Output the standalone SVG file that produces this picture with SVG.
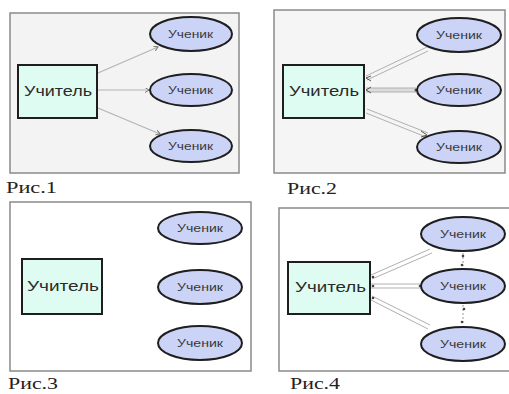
<svg xmlns="http://www.w3.org/2000/svg" width="509" height="394" viewBox="0 0 509 394">
<style>
.frame{stroke:#8a8a8a;stroke-width:1.5}
.t rect{fill:#dffcf2;stroke:#1e1e1e;stroke-width:2}
.s ellipse{fill:#cbd3f6;stroke:#1e1e1e;stroke-width:2}
.tt{font-family:"Liberation Sans",Arial,sans-serif;font-size:14px;fill:#2a2a2a}
.st{font-family:"Liberation Sans",Arial,sans-serif;font-size:10px;fill:#3a3a3a}
.cap{font-family:"Liberation Serif","Times New Roman",serif;font-size:16px;fill:#222}
.ln{stroke:#b4b4b4;stroke-width:1.2;fill:none}
.dl{stroke:#b0b0b0;stroke-width:1;fill:none}
</style>
<defs>
<marker id="ah" markerWidth="6" markerHeight="6" refX="4" refY="2.5" orient="auto" markerUnits="userSpaceOnUse">
<path d="M0,0 L4,2.5 L0,5" fill="none" stroke="#777" stroke-width="1"/>
</marker>
</defs>
<rect width="509" height="394" fill="#ffffff"/>

<!-- Panel frames -->
<rect class="frame" x="10" y="13" width="229" height="160" fill="#f3f3f3"/>
<rect class="frame" x="274" y="10" width="231" height="163" fill="#f5f5f5" stroke="#555"/>
<rect class="frame" x="10" y="202" width="241" height="169" fill="#ffffff"/>
<rect class="frame" x="279" y="208" width="232" height="163" fill="#ffffff"/>

<!-- Connectors -->
<g id="connectors">
<!-- Panel 1 -->
<line class="ln" x1="98" y1="73" x2="158" y2="47" marker-end="url(#ah)"/>
<line class="ln" x1="98" y1="90" x2="149" y2="90" marker-end="url(#ah)"/>
<line class="ln" x1="98" y1="108" x2="160" y2="134" marker-end="url(#ah)"/>
<!-- Panel 2 -->
<path class="dl" d="M366,76 L427,47 M367,80 L428,51"/>
<path d="M371,76 L366,78 L371,81" fill="none" stroke="#555" stroke-width="1"/>
<rect x="367" y="88" width="49" height="4" fill="#dcdcdc"/>
<path d="M366,88 L416,88 M366,92 L416,92" class="dl" stroke="#c8c8c8"/>
<path d="M371,87 L366,90 L371,93" fill="none" stroke="#555" stroke-width="1"/>
<circle cx="416" cy="90" r="1.5" fill="#444"/>
<path class="dl" d="M366,113 L426,137 M367,109 L428,133"/>
<path d="M421,131 L427,135 L421,137" fill="none" stroke="#555" stroke-width="1"/>
<!-- Panel 4 -->
<path class="dl" d="M371,275 L430,249 M372,279 L432,253"/>
<circle cx="373" cy="277" r="1.3" fill="#444"/>
<path class="dl" d="M371,284 L421,284 M371,288 L421,288"/>
<circle cx="373" cy="286" r="1.3" fill="#444"/>
<circle cx="420" cy="286" r="1.3" fill="#444"/>
<path class="dl" d="M371,300 L428,329 M372,296 L430,325"/>
<circle cx="373" cy="298" r="1.3" fill="#444"/>
<line x1="463" y1="253" x2="463" y2="266" stroke="#999" stroke-width="1" stroke-dasharray="2,2"/>
<circle cx="463" cy="256" r="1.3" fill="#444"/>
<circle cx="462" cy="265" r="1.3" fill="#444"/>
<line x1="463" y1="305" x2="463" y2="324" stroke="#999" stroke-width="1" stroke-dasharray="2,2"/>
<circle cx="464" cy="309" r="1.3" fill="#444"/>
<circle cx="462" cy="322" r="1.3" fill="#444"/>
</g>

<!-- Panel 1 nodes -->
<g id="p1-teacher" class="t"><rect x="18" y="65" width="79" height="53"/><text class="tt" x="24" y="96" textLength="68" lengthAdjust="spacingAndGlyphs">Учитель</text></g>
<g id="p1-s1" class="s"><ellipse cx="191" cy="34" rx="41" ry="17"/><text class="st" x="168" y="38" textLength="45" lengthAdjust="spacingAndGlyphs">Ученик</text></g>
<g id="p1-s2" class="s"><ellipse cx="191" cy="90" rx="41" ry="16"/><text class="st" x="168" y="94" textLength="45" lengthAdjust="spacingAndGlyphs">Ученик</text></g>
<g id="p1-s3" class="s"><ellipse cx="191" cy="146" rx="41" ry="16"/><text class="st" x="168" y="150" textLength="45" lengthAdjust="spacingAndGlyphs">Ученик</text></g>
<text class="cap" x="6" y="193" textLength="51" lengthAdjust="spacingAndGlyphs">Рис.1</text>

<!-- Panel 2 nodes -->
<g id="p2-teacher" class="t"><rect x="283" y="65" width="81" height="53"/><text class="tt" x="289" y="96" textLength="70" lengthAdjust="spacingAndGlyphs">Учитель</text></g>
<g id="p2-s1" class="s"><ellipse cx="459" cy="35" rx="42" ry="17"/><text class="st" x="436" y="39" textLength="46" lengthAdjust="spacingAndGlyphs">Ученик</text></g>
<g id="p2-s2" class="s"><ellipse cx="459" cy="90" rx="42" ry="16"/><text class="st" x="436" y="94" textLength="46" lengthAdjust="spacingAndGlyphs">Ученик</text></g>
<g id="p2-s3" class="s"><ellipse cx="459" cy="147" rx="42" ry="16"/><text class="st" x="436" y="151" textLength="46" lengthAdjust="spacingAndGlyphs">Ученик</text></g>
<text class="cap" x="287" y="194" textLength="50" lengthAdjust="spacingAndGlyphs">Рис.2</text>

<!-- Panel 3 nodes -->
<g id="p3-teacher" class="t"><rect x="22" y="259" width="80" height="55"/><text class="tt" x="27" y="291" textLength="72" lengthAdjust="spacingAndGlyphs">Учитель</text></g>
<g id="p3-s1" class="s"><ellipse cx="200" cy="228" rx="42" ry="16"/><text class="st" x="177" y="232" textLength="46" lengthAdjust="spacingAndGlyphs">Ученик</text></g>
<g id="p3-s2" class="s"><ellipse cx="200" cy="287" rx="42" ry="17"/><text class="st" x="177" y="291" textLength="46" lengthAdjust="spacingAndGlyphs">Ученик</text></g>
<g id="p3-s3" class="s"><ellipse cx="200" cy="343" rx="42" ry="17"/><text class="st" x="177" y="347" textLength="46" lengthAdjust="spacingAndGlyphs">Ученик</text></g>
<text class="cap" x="8" y="389" textLength="50" lengthAdjust="spacingAndGlyphs">Рис.3</text>

<!-- Panel 4 nodes -->
<g id="p4-teacher" class="t"><rect x="288" y="262" width="82" height="52"/><text class="tt" x="295" y="292" textLength="71" lengthAdjust="spacingAndGlyphs">Учитель</text></g>
<g id="p4-s1" class="s"><ellipse cx="463" cy="234" rx="42" ry="17"/><text class="st" x="440" y="238" textLength="46" lengthAdjust="spacingAndGlyphs">Ученик</text></g>
<g id="p4-s2" class="s"><ellipse cx="463" cy="286" rx="42" ry="17"/><text class="st" x="440" y="290" textLength="46" lengthAdjust="spacingAndGlyphs">Ученик</text></g>
<g id="p4-s3" class="s"><ellipse cx="463" cy="344" rx="42" ry="17"/><text class="st" x="440" y="348" textLength="46" lengthAdjust="spacingAndGlyphs">Ученик</text></g>
<text class="cap" x="290" y="389" textLength="50" lengthAdjust="spacingAndGlyphs">Рис.4</text>
</svg>
